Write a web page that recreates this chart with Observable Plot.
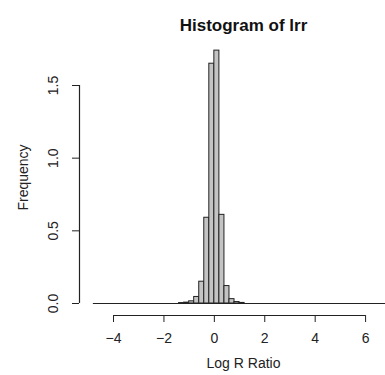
<!DOCTYPE html>
<html>
<head>
<meta charset="utf-8">
<script src="https://cdn.jsdelivr.net/npm/d3@7"></script>
<script src="https://cdn.jsdelivr.net/npm/@observablehq/plot@0.6"></script>
<style>
  html, body { margin: 0; padding: 0; background: #fff; }
  #chart svg { display: block; font-family: "Liberation Sans", Arial, sans-serif; }
</style>
</head>
<body>
<div id="chart"></div>
<script>
// Histogram bins (width 0.2) and densities
const binStarts = [-1.4, -1.2, -1.0, -0.8, -0.6, -0.4, -0.2, 0.0, 0.2, 0.4, 0.6, 0.8, 1.0];
const densities = [0.003, 0.006, 0.015, 0.045, 0.15, 0.59, 1.65, 1.74, 0.61, 0.12, 0.03, 0.01, 0.004];
const binWidth = 0.2;
const dataMin = -4.8;   // left end of empty bins
const dataMax = 7.0;    // right end of empty bins
const usrX = [-5.35, 6.79]; // visible plot-region x range
const xTicks = [-4, -2, 0, 2, 4, 6];
const yTicks = [0.0, 0.5, 1.0, 1.5];
const title = "Histogram of lrr";
const xLabel = "Log R Ratio";
const yLabel = "Frequency";

const bins = binStarts.map((s, i) => ({x1: s, x2: s + binWidth, y: densities[i]}));
const ink = "#222";

const chart = Plot.plot({
  width: 385,
  height: 375,
  marginLeft: 79,
  marginRight: 0,
  marginTop: 85,
  marginBottom: 72,
  style: {fontFamily: "'Liberation Sans', Arial, sans-serif", fontSize: "14px", color: ink},
  x: {domain: usrX, axis: null},
  y: {domain: [0, 1.5], axis: null},
  marks: [
    Plot.ruleY([0], {x1: dataMin, x2: dataMax, stroke: ink, strokeWidth: 1}),
    Plot.rectY(bins, {x1: "x1", x2: "x2", y: "y", fill: "#c4c4c4", stroke: ink, strokeWidth: 1, inset: 0}),
    // x axis
    Plot.ruleY([0], {x1: xTicks[0], x2: xTicks[xTicks.length - 1], dy: 12, stroke: ink}),
    Plot.axisX({ticks: xTicks, tickSize: 7, tickPadding: 11, dy: 12, tickFormat: d => String(d).replace("-", "\u2212"), stroke: ink, fill: ink, label: null, fontSize: 14}),
    // y axis
    Plot.ruleX([usrX[0]], {y1: yTicks[0], y2: yTicks[yTicks.length - 1], stroke: ink, strokeWidth: 1.2}),
    Plot.axisY({ticks: yTicks, tickSize: 7, tickFormat: () => "", stroke: ink, label: null}),
    Plot.text(yTicks, {y: d => d, text: d => d.toFixed(1), frameAnchor: "left", dx: -26, rotate: -90, textAnchor: "middle", lineAnchor: "middle", fontSize: 14, fill: ink}),
    // labels
    Plot.text([title], {frameAnchor: "top", dx: 11, dy: -67, textAnchor: "middle", fontWeight: "bold", fontSize: 17, fill: "#111"}),
    Plot.text([xLabel], {frameAnchor: "bottom", dx: 11, dy: 64, textAnchor: "middle", fontSize: 14, fill: ink}),
    Plot.text([yLabel], {frameAnchor: "left", dx: -56, dy: -17, rotate: -90, textAnchor: "middle", lineAnchor: "middle", fontSize: 14, fill: ink})
  ]
});
document.getElementById("chart").appendChild(chart);
</script>
</body>
</html>
